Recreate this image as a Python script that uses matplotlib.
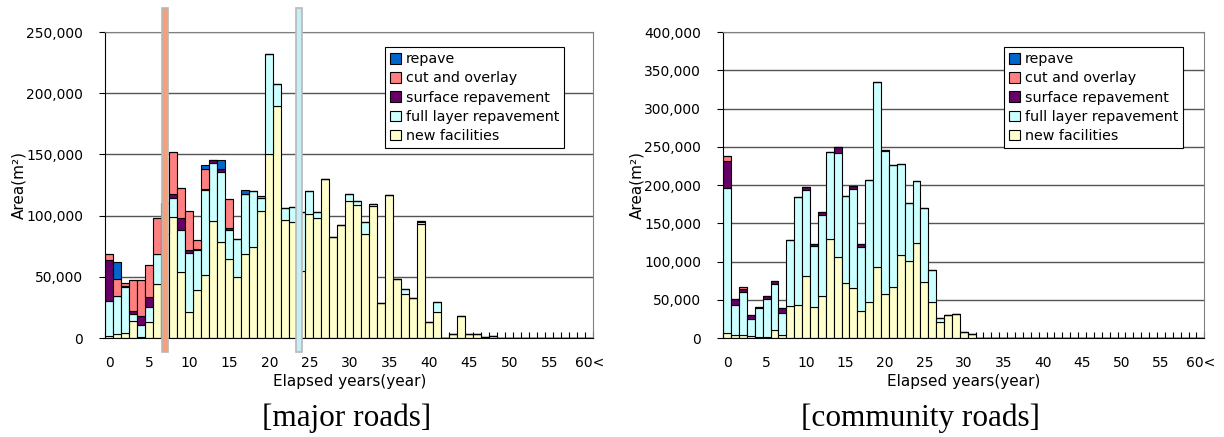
import matplotlib
matplotlib.use("Agg")
import matplotlib.pyplot as plt
from matplotlib.patches import Rectangle
import numpy as np

plt.rcParams['font.family'] = ['DejaVu Sans']

# categories: elapsed years 0..60 (last one is "60<")
years = list(range(61))
tick_pos = list(range(0, 61, 5))
tick_labels = [str(v) for v in range(0, 60, 5)] + ['60<']

series_names = ['new facilities', 'full layer repavement', 'surface repavement',
                'cut and overlay', 'repave']
series_colors = ['#FFFFCC', '#CCFFFF', '#660066', '#FF8080', '#0066CC']

# ---- major roads (thousand m2 per segment) ----
major_new = [1.5, 3.5, 4, 13.6, 1, 13.1, 43.8, 85, 98.6, 54.2,
             21.2, 39.5, 51.2, 95.9, 78.2, 64.5, 49.8, 68.4, 74.3, 103.8,
             150.6, 189.8, 96.1, 94.5, 55, 101.6, 98.3, 129.9, 82.2, 92.6,
             112.2, 108.4, 85, 107.6, 28.6, 116.6, 47.9, 36.2, 32.4, 92.9,
             12.8, 21.2, 0.3, 3.5, 18, 3.3, 3.3, 0.8, 1.5, 0,
             0, 0, 0, 0, 0, 0, 0, 0, 0, 0, 0]
major_full = [28.7, 31.1, 38, 6.3, 9.9, 12.2, 25.1, 25, 15.8, 33.8,
              48.5, 32.1, 70, 47.3, 57.4, 24, 30.8, 49.5, 45.8, 10.9,
              81.4, 17.4, 9.8, 12.5, 48, 18.5, 4.9, 0, 0, 0,
              5.7, 3.5, 10, 1.9, 0, 0, 0, 3.8, 0, 1.9,
              0, 7.9, 0, 0, 0, 0, 0, 0, 0, 0,
              0, 0, 0, 0, 0, 0, 0, 0, 0, 0, 0]
major_surface = [33.3, 0, 0.8, 1.9, 6.8, 8.2, 0, 0, 3, 10,
                 2.5, 0.8, 0.8, 2, 2.4, 1.6, 0, 0, 0, 0,
                 0, 0, 0, 0, 0, 0, 0, 0, 0, 0,
                 0, 0, 0, 0, 0, 0, 0, 0, 0, 0.5] + [0] * 21
major_cut = [5.4, 13.9, 2.5, 25.3, 30, 26.4, 28.9, 0, 34.6, 24.5,
             31.8, 7.5, 16.3, 0, 0, 23.2, 0, 0, 0, 1.3] + [0] * 41
major_repave = [0, 13.6, 0, 0, 0, 0, 0, 0, 0, 0,
                0, 0, 2.7, 0, 7.2, 0, 0, 3, 0, 0] + [0] * 41

# ---- community roads ----
comm_new = [7, 4.4, 4.4, 2.2, 1, 1.7, 10.9, 3.5, 41.4, 43.6,
            81.5, 41, 55.3, 129.8, 106.3, 71.5, 65.8, 35.7, 47.1, 93.2,
            58, 67.1, 108, 100.2, 124.2, 72.8, 46.6, 20.9, 29.6, 31.8,
            7.4, 5.2] + [0] * 29
comm_full = [189, 39.2, 55.7, 22.2, 38.7, 48.8, 59.3, 29.6, 86.3, 140.3,
             112.4, 79.7, 105.9, 113.3, 135.5, 114.1, 129.4, 83.3, 159.9, 241,
             186.9, 159, 119.9, 76.7, 81, 97.1, 42.3, 5.7] + [0] * 33
comm_surface = [36, 6.9, 4.4, 5.2, 0.8, 4, 3.8, 6.6, 0, 0,
                3.9, 2.2, 3.1, 0, 8.3, 0, 3.5, 4.3, 0, 0,
                1.1] + [0] * 40
comm_cut = [6.3, 0, 2.2] + [0] * 58
comm_repave = [0] * 61

major = [major_new, major_full, major_surface, major_cut, major_repave]
community = [comm_new, comm_full, comm_surface, comm_cut, comm_repave]

fig = plt.figure(figsize=(12.24, 4.37), dpi=100)
ax1 = fig.add_axes([0.0860, 0.2265, 0.3987, 0.7002])
ax2 = fig.add_axes([0.5909, 0.2265, 0.3930, 0.7002])


def draw(ax, data, ymax, legend_x):
    bottom = np.zeros(len(years))
    handles = []
    for vals, name, col in zip(data, series_names, series_colors):
        v = np.array(vals) * 1000
        b = ax.bar(years, v, width=1.0, bottom=bottom, color=col,
                   edgecolor='black', linewidth=0.8, label=name, zorder=2)
        handles.append(b)
        bottom += v
    ax.set_xlim(-0.5, 60.5)
    ax.set_ylim(0, ymax)
    ax.set_yticks(np.arange(0, ymax + 1, 50000))
    ax.yaxis.set_major_formatter(matplotlib.ticker.FuncFormatter(lambda v, p: f'{int(v):,}'))
    ax.yaxis.grid(True, color='#555555', linewidth=1)
    ax.set_axisbelow(True)
    ax.set_xticks(tick_pos)
    ax.set_xticklabels(tick_labels)
    ax.set_xticks(np.arange(-0.5, 61, 1), minor=True)
    ax.tick_params(axis='x', which='major', length=0, pad=13, labelsize=10)
    ax.tick_params(axis='x', which='minor', direction='in', length=4, width=0.8)
    ax.tick_params(axis='y', length=4, labelsize=10, pad=12)
    for s in ['top', 'right']:
        ax.spines[s].set_color('#808080')
    for s in ['left', 'bottom']:
        ax.spines[s].set_color('black')
    ax.set_xlabel('Elapsed years(year)', fontsize=11, labelpad=3)
    ax.set_ylabel('Area(m²)', fontsize=11, labelpad=0)
    leg = ax.legend(handles[::-1], series_names[::-1], loc='upper left',
                    bbox_to_anchor=(legend_x, 0.950), borderaxespad=0,
                    fancybox=False, framealpha=1, edgecolor='black',
                    fontsize=10.3, handlelength=0.75, handleheight=0.75,
                    handletextpad=0.35, labelspacing=0.36, borderpad=0.35)
    leg.get_frame().set_linewidth(0.8)
    leg.set_zorder(5)


draw(ax1, major, 250000, 0.573)
draw(ax2, community, 400000, 0.584)

# highlighted years on the major roads chart
for xc, fc in [(7.0, '#F4A07A'), (23.75, '#C6EEF6')]:
    r = Rectangle((xc - 0.4, -0.046), 0.8, 1.124, transform=ax1.get_xaxis_transform(),
                  facecolor=fc, edgecolor='#B8B8B8', linewidth=1.2, clip_on=False, zorder=4)
    ax1.add_patch(r)

fig.text(0.2835, 0.043, '[major roads]', ha='center', va='center',
         family='Liberation Serif', fontsize=22.5)
fig.text(0.752, 0.043, '[community roads]', ha='center', va='center',
         family='Liberation Serif', fontsize=22.5)

fig.savefig('out.png', dpi=100)
